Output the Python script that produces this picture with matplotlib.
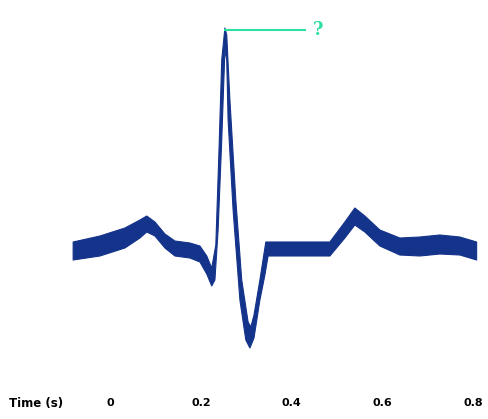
import numpy as np
import matplotlib
import matplotlib.pyplot as plt

matplotlib.use("Agg")

# ── data: ECG trace drawn as a band (upper / lower edges) ─────────────────────
upper_t = [-0.081, -0.022, 0.033, 0.066, 0.081, 0.099, 0.121, 0.143, 0.176, 0.198,
           0.213, 0.224, 0.233, 0.240, 0.246, 0.253, 0.257, 0.264, 0.277, 0.290,
           0.304, 0.310, 0.317, 0.330, 0.343, 0.484, 0.517, 0.539, 0.561, 0.594,
           0.638, 0.682, 0.726, 0.770, 0.807]
upper_v = [0.08, 0.14, 0.22, 0.30, 0.34, 0.28, 0.16, 0.09, 0.07, 0.04,
           -0.06, -0.18, 0.05, 1.00, 1.90, 2.22, 2.15, 1.50, 0.50, -0.30,
           -0.72, -0.77, -0.65, -0.30, 0.08, 0.08, 0.28, 0.42, 0.34, 0.20,
           0.12, 0.13, 0.15, 0.13, 0.08]
lower_t = [-0.081, -0.022, 0.033, 0.066, 0.081, 0.099, 0.121, 0.143, 0.176, 0.198,
           0.213, 0.224, 0.231, 0.238, 0.246, 0.253, 0.257, 0.260, 0.271, 0.286,
           0.299, 0.308, 0.317, 0.330, 0.341, 0.348, 0.484, 0.517, 0.539, 0.561,
           0.594, 0.638, 0.682, 0.726, 0.770, 0.807]
lower_v = [-0.10, -0.06, 0.02, 0.12, 0.18, 0.14, 0.02, -0.06, -0.08, -0.12,
           -0.24, -0.36, -0.30, 0.20, 1.10, 2.00, 1.90, 1.30, 0.40, -0.50,
           -0.90, -0.98, -0.88, -0.50, -0.25, -0.06, -0.06, 0.12, 0.25, 0.18,
           0.04, -0.05, -0.06, -0.04, -0.05, -0.10]

tick_vals = [0, 0.2, 0.4, 0.6, 0.8]
tick_labels = ["0", "0.2", "0.4", "0.6", "0.8"]

# ── figure ────────────────────────────────────────────────────────────────────
fig = plt.figure(figsize=(4.88, 4.19), dpi=100)
ax = fig.add_axes([0, 0, 1, 1])
ax.set_xlim(-0.242, 0.832)
ax.set_ylim(-1.69, 2.5)
ax.axis("off")

poly_t = np.concatenate([upper_t, lower_t[::-1]])
poly_v = np.concatenate([upper_v, lower_v[::-1]])
ax.fill(poly_t, poly_v, color="#14338a", linewidth=0.8, edgecolor="#14338a",
        joinstyle="round")

# annotation line with question mark at the R peak
green = "#2ee0a0"
ax.plot([0.253, 0.429], [2.2, 2.2], color=green, linewidth=1.5)
ax.text(0.458, 2.2, "?", color=green, fontsize=13, fontweight="bold",
        family="DejaVu Serif", ha="center", va="center")

# time axis labels
for v, lab in zip(tick_vals, tick_labels):
    ax.text(v, -1.53, lab, ha="center", va="center", fontsize=8, fontweight="bold")
ax.text(-0.163, -1.53, "Time (s)", ha="center", va="center", fontsize=8.5,
        fontweight="bold")

plt.savefig("out.png", dpi=100)
